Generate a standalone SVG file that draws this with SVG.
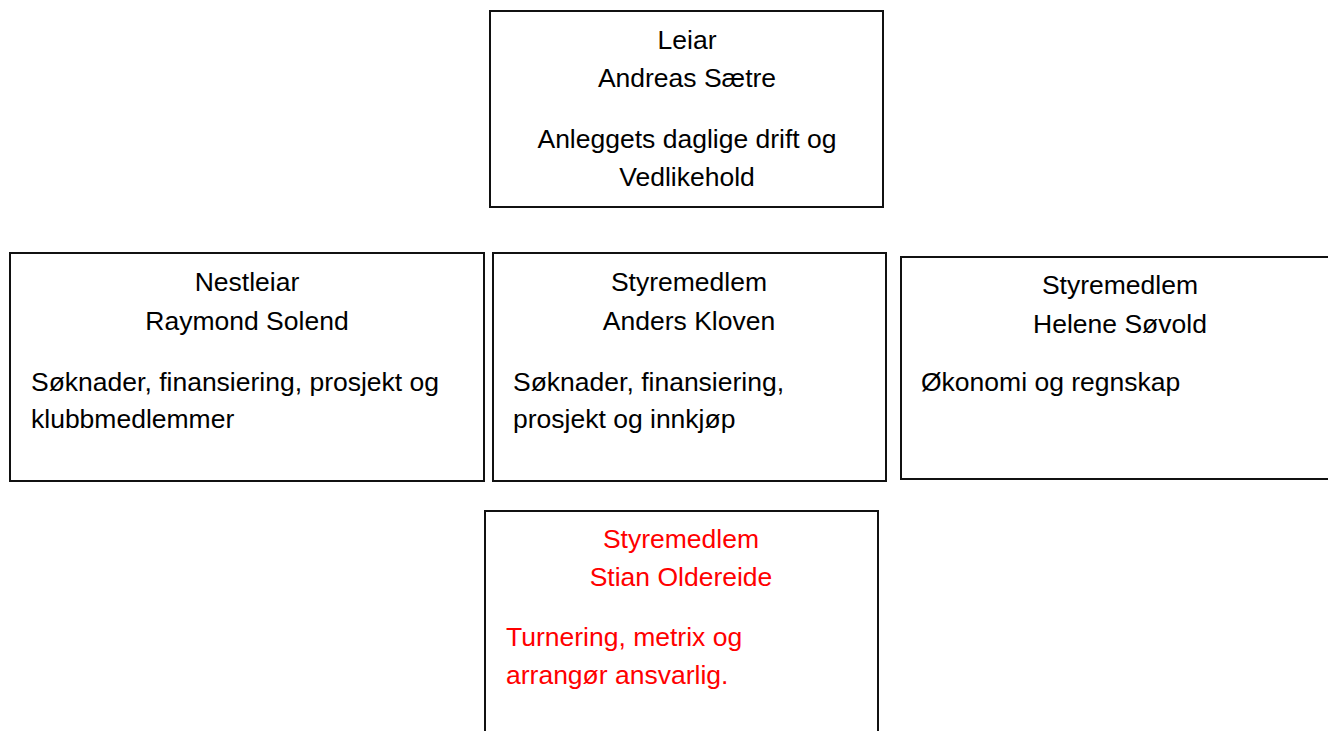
<svg xmlns="http://www.w3.org/2000/svg" width="1328" height="731" viewBox="0 0 1328 731">
<style>
rect.box{fill:#fff;stroke:#111;stroke-width:2}
text{font-family:"Liberation Sans",Arial,sans-serif;font-size:26.5px;fill:#000}
text.c{text-anchor:middle}
.red text{fill:#ff0000}
</style>
<rect width="1328" height="731" fill="#fff"/>
<g id="connectors"/>
<g id="leiar">
<rect class="box" x="490" y="11" width="393" height="196"/>
<text class="c" x="687" y="49">Leiar</text>
<text class="c" x="687" y="87">Andreas Sætre</text>
<text class="c" x="687" y="148">Anleggets daglige drift og</text>
<text class="c" x="687" y="186">Vedlikehold</text>
</g>
<g id="nestleiar">
<rect class="box" x="10" y="253" width="474" height="228"/>
<text class="c" x="247" y="291">Nestleiar</text>
<text class="c" x="247" y="330">Raymond Solend</text>
<text x="31" y="391">Søknader, finansiering, prosjekt og</text>
<text x="31" y="428">klubbmedlemmer</text>
</g>
<g id="anders">
<rect class="box" x="493" y="253" width="393" height="228"/>
<text class="c" x="689" y="291">Styremedlem</text>
<text class="c" x="689" y="330">Anders Kloven</text>
<text x="513" y="391">Søknader, finansiering,</text>
<text x="513" y="428">prosjekt og innkjøp</text>
</g>
<g id="helene">
<rect class="box" x="901" y="257" width="440" height="222"/>
<text class="c" x="1120" y="294">Styremedlem</text>
<text class="c" x="1120" y="333">Helene Søvold</text>
<text x="921" y="391">Økonomi og regnskap</text>
</g>
<g id="stian" class="red">
<rect class="box" x="485" y="511" width="393" height="240"/>
<text class="c" x="681" y="548">Styremedlem</text>
<text class="c" x="681" y="586">Stian Oldereide</text>
<text x="506" y="646">Turnering, metrix og</text>
<text x="506" y="684">arrangør ansvarlig.</text>
</g>
</svg>
